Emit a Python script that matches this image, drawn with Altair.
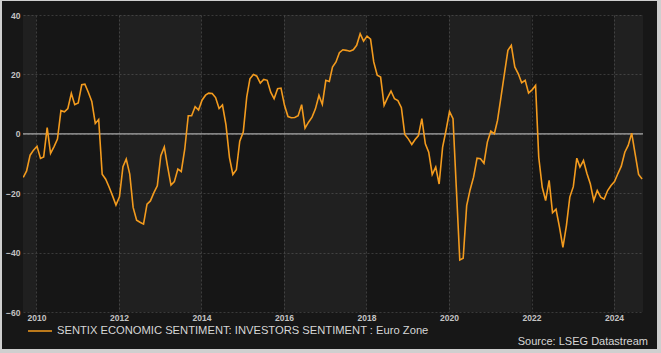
import altair as alt
import pandas as pd

SERIES = "SENTIX ECONOMIC SENTIMENT: INVESTORS SENTIMENT : Euro Zone"

# Monthly values, Sep 2009 .. Sep 2024
values = [
    -14.7, -12.5, -7.2, -5.5,                                                  # 2009 Sep-Dec
    -4.2, -8.3, -7.8, 2.1, -6.6, -4.3, -1.8, 7.8, 7.4, 8.5, 13.6, 9.8,         # 2010
    10.4, 16.5, 16.7, 13.9, 10.9, 3.5, 4.8, -13.6, -15.3, -17.9, -20.9, -24.0, # 2011
    -21.2, -11.1, -8.5, -13.6, -24.8, -29.1, -29.8, -30.4, -23.7, -22.6, -19.8, -17.5,  # 2012
    -7.4, -4.4, -10.8, -17.3, -16.1, -11.9, -12.7, -5.2, 6.1, 6.1, 9.1, 8.0,   # 2013
    11.3, 13.0, 13.7, 13.6, 12.2, 8.5, 9.7, 3.0, -8.0, -13.7, -12.1, -2.5,     # 2014
    0.6, 12.4, 18.5, 20.0, 19.4, 17.1, 18.3, 18.0, 14.0, 11.8, 15.2, 15.4,     # 2015
    9.6, 5.8, 5.4, 5.5, 6.1, 9.8, 1.9, 3.9, 5.6, 8.4, 12.9, 9.9,               # 2016
    18.0, 17.6, 22.5, 24.2, 27.3, 28.3, 28.1, 27.8, 28.3, 29.8, 33.7, 31.2,    # 2017
    32.9, 31.9, 24.2, 19.7, 19.1, 9.6, 12.1, 14.4, 11.8, 11.2, 8.8, -0.2,      # 2018
    -1.7, -3.6, -2.0, -0.6, 5.1, -3.4, -6.2, -13.7, -11.2, -16.9, -4.5, 1.1,   # 2019
    7.5, 5.1, -18.0, -42.5, -41.9, -24.2, -18.9, -14.6, -8.2, -8.4, -9.9, -2.8,  # 2020
    0.9, 0.0, 4.5, 12.4, 20.2, 28.1, 29.8, 22.5, 20.2, 17.2, 18.0, 13.7,       # 2021
    14.8, 16.3, -7.9, -18.0, -22.5, -15.7, -26.6, -25.4, -31.5, -38.2, -30.9, -21.3,  # 2022
    -17.8, -8.2, -11.2, -9.0, -13.3, -16.9, -22.5, -19.1, -21.3, -22.0, -19.1, -17.4,  # 2023
    -16.1, -13.3, -10.9, -6.2, -3.9, 0.2, -6.7, -13.7, -15.2,                  # 2024 Jan-Sep
]

dates = [f"{2009 + (8 + i) // 12}-{(8 + i) % 12 + 1:02d}-06" for i in range(len(values))]

band_starts = ["2009-08-01", "2012-01-01", "2016-01-01", "2020-01-01", "2024-01-01"]
band_ends = ["2010-01-01", "2014-01-01", "2018-01-01", "2022-01-01", "2024-12-31"]

y_ticks = [-60, -40, -20, 0, 20, 40]
x_tick_years = [2010, 2012, 2014, 2016, 2018, 2020, 2022, 2024]

ORANGE = "#F39B1E"
FONT = "Liberation Sans"
FRAME = "#cfcfcf"

df = pd.DataFrame({"date": dates, "value": values, "series": SERIES})
bands = pd.DataFrame({"start": band_starts, "end": band_ends})
zero = pd.DataFrame({"y": [0]})
source = pd.DataFrame({"t": ["Source: LSEG Datastream"]})
one = pd.DataFrame({"k": [1]})

x_scale = alt.Scale(
    type="utc",
    domain=[alt.DateTime(year=2009, month=9, date=4, utc=True),
            alt.DateTime(year=2024, month=9, date=14, utc=True)],
)
y_scale = alt.Scale(domain=[-60, 40], nice=False, zero=False)

x_axis = alt.Axis(
    title=None,
    values=[alt.DateTime(year=y, month=1, date=1, utc=True) for y in x_tick_years],
    format="%Y",
    labelFont=FONT, labelFontSize=8.5, labelFontWeight="bold", labelColor="#c4c4c4",
    labelPadding=1, ticks=False, domain=False,
    grid=True, gridColor="#3a3a3a", gridDash=[2, 2], gridWidth=1,
)
y_axis = alt.Axis(
    title=None, values=y_ticks,
    labelFont=FONT, labelFontSize=8.5, labelFontWeight="bold", labelColor="#c4c4c4",
    labelPadding=3, ticks=False, domain=False,
    grid=True, gridColor="#3a3a3a", gridDash=[2, 2], gridWidth=1,
)

band_layer = alt.Chart(bands).mark_rect(color="#ffffff", opacity=0.045, clip=True).encode(
    x=alt.X("start:T", scale=x_scale, axis=x_axis),
    x2="end:T",
)

zero_layer = alt.Chart(zero).mark_rule(color="#a8a8a8", strokeWidth=1.2).encode(
    y=alt.Y("y:Q", scale=y_scale, axis=y_axis),
)

line_layer = alt.Chart(df).mark_line(strokeWidth=1.6, clip=True).encode(
    x=alt.X("date:T", scale=x_scale, axis=x_axis),
    y=alt.Y("value:Q", scale=y_scale, axis=y_axis),
    color=alt.Color(
        "series:N",
        scale=alt.Scale(domain=[SERIES], range=[ORANGE]),
        legend=alt.Legend(
            title=None, orient="none", legendX=4, legendY=303,
            symbolType="stroke", symbolSize=576, symbolStrokeWidth=1.5,
            labelFont=FONT, labelFontSize=11.2, labelColor="#d6d6d6",
            labelLimit=0, labelOffset=4, padding=0,
        ),
    ),
)

source_layer = alt.Chart(source).mark_text(
    align="right", baseline="middle", font=FONT, fontSize=11, color="#d6d6d6",
).encode(
    x=alt.value(625), y=alt.value(327), text="t:N",
)

# thin light frame around the dark panel (canvas edges)
frame_top = alt.Chart(one).mark_rect(color=FRAME).encode(
    x=alt.value(-23), x2=alt.value(638), y=alt.value(-15), y2=alt.value(-14))
frame_left = alt.Chart(one).mark_rect(color=FRAME).encode(
    x=alt.value(-23), x2=alt.value(-21), y=alt.value(-15), y2=alt.value(338))
frame_right = alt.Chart(one).mark_rect(color=FRAME).encode(
    x=alt.value(634), x2=alt.value(638), y=alt.value(-15), y2=alt.value(338))
frame_bottom = alt.Chart(one).mark_rect(color=FRAME).encode(
    x=alt.value(-23), x2=alt.value(638), y=alt.value(334), y2=alt.value(338))

chart = alt.layer(
    band_layer, zero_layer, line_layer, source_layer,
    frame_top, frame_left, frame_right, frame_bottom,
).properties(
    width=620, height=297,
    padding={"left": 23, "top": 15, "right": 18, "bottom": 41},
    autosize=alt.AutoSizeParams(type="none"),
    background="#171717",
).configure_view(fill="#161616", stroke=None)

chart.save("out.html", embed_options={"renderer": "svg", "actions": False})
